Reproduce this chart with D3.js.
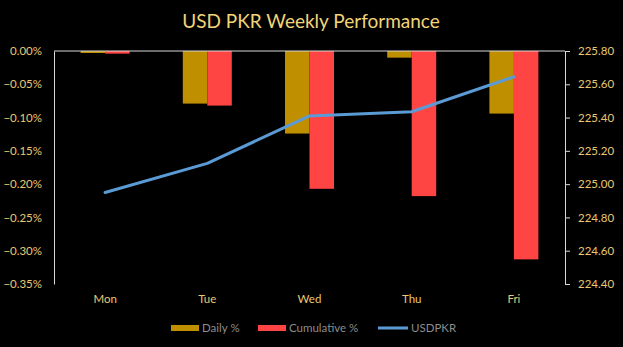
<!DOCTYPE html>
<html><head><meta charset="utf-8">
<script src="https://cdn.jsdelivr.net/npm/d3@7"></script>
<style>
html,body{margin:0;padding:0;background:#000;}
svg{display:block;}
text{font-family:Lato,"Open Sans",sans-serif;}
</style></head>
<body>
<script>
const categories = ["Mon","Tue","Wed","Thu","Fri"];
const dailyPct = [-0.003,-0.079,-0.124,-0.010,-0.094];
const cumulativePct = [-0.004,-0.082,-0.207,-0.218,-0.313];
const usdpkr = [224.95,225.125,225.41,225.435,225.645];
const leftTicks = [0,-0.05,-0.10,-0.15,-0.20,-0.25,-0.30,-0.35];
const rightTicks = [224.40,224.60,224.80,225.00,225.20,225.40,225.60,225.80];
const seriesNames = ["Daily %","Cumulative %","USDPKR"];
const colors = {daily:"#bf8f00", cum:"#ff4444", line:"#5b9bd5"};

const W=623,H=347;
const m={l:54,r:58,t:51,b:63};
const svg=d3.select("body").append("svg").attr("width",W).attr("height",H);
svg.append("rect").attr("width",W).attr("height",H).attr("fill","#000");

const x=d3.scaleBand().domain(categories).range([m.l,W-m.r]);
const xs=d3.scaleBand().domain(["d","c"]).range([0,49]);
const yL=d3.scaleLinear().domain([-0.35,0]).range([H-m.b,m.t]);
const yR=d3.scaleLinear().domain([224.4,225.8]).range([H-m.b,m.t]);

svg.append("text").attr("x",311).attr("y",28).attr("text-anchor","middle")
  .attr("fill","#f2d479").attr("font-size",19).text("USD PKR Weekly Performance");

// bars
const g=svg.append("g");
categories.forEach((c,i)=>{
  const x0=x(c)+x.bandwidth()/2-24.5;
  g.append("rect").attr("x",x0+xs("d")).attr("width",xs.bandwidth())
    .attr("y",yL(0)).attr("height",yL(dailyPct[i])-yL(0)).attr("fill",colors.daily);
  g.append("rect").attr("x",x0+xs("c")).attr("width",xs.bandwidth())
    .attr("y",yL(0)).attr("height",yL(cumulativePct[i])-yL(0)).attr("fill",colors.cum);
});

// left axis
const axL=d3.axisLeft(yL).tickValues(leftTicks).tickSize(0).tickPadding(12)
  .tickFormat(d=>d3.format(".2f")(d)+"%");
const gl=svg.append("g").attr("transform",`translate(${m.l},0)`).call(axL);
gl.select(".domain").attr("stroke","#d9d9d9");
gl.selectAll("text").attr("fill","#e8c870").attr("font-size",11.5).attr("font-family","Lato,sans-serif");

// right axis
const axR=d3.axisRight(yR).tickValues(rightTicks).tickSize(5).tickPadding(8)
  .tickFormat(d3.format(".2f"));
const gr=svg.append("g").attr("transform",`translate(${W-m.r},0)`).call(axR);
gr.select(".domain").attr("stroke","#d9d9d9");
gr.selectAll("line").attr("stroke","#d9d9d9");
gr.selectAll("text").attr("fill","#e8c870").attr("font-size",11.5).attr("font-family","Lato,sans-serif");

// zero line
svg.append("line").attr("x1",m.l).attr("x2",W-m.r).attr("y1",yL(0)).attr("y2",yL(0))
  .attr("stroke","#d9d9d9").attr("stroke-width",1);

// category labels
const axB=d3.axisBottom(x).tickSize(0).tickPadding(0);
const gb=svg.append("g").attr("transform",`translate(0,${H-m.b+11})`).call(axB);
gb.select(".domain").remove();
gb.selectAll("text").attr("fill","#e8c870").attr("font-size",11.5).attr("font-family","Lato,sans-serif");

// line
const line=d3.line().x((d,i)=>x(categories[i])+x.bandwidth()/2).y(d=>yR(d));
svg.append("path").datum(usdpkr).attr("d",line).attr("fill","none")
  .attr("stroke",colors.line).attr("stroke-width",3).attr("stroke-linejoin","round").attr("stroke-linecap","round");

// legend
const lg=svg.append("g");
const legY=328;
lg.append("rect").attr("x",171).attr("y",legY-3).attr("width",28).attr("height",6).attr("fill",colors.daily);
lg.append("text").attr("x",202).attr("y",legY+4).attr("fill","#8c8c8c").attr("font-size",11.5).text(seriesNames[0]);
lg.append("rect").attr("x",258).attr("y",legY-3).attr("width",28).attr("height",6).attr("fill",colors.cum);
lg.append("text").attr("x",289).attr("y",legY+4).attr("fill","#8c8c8c").attr("font-size",11.5).text(seriesNames[1]);
lg.append("line").attr("x1",378).attr("x2",408).attr("y1",legY).attr("y2",legY).attr("stroke",colors.line).attr("stroke-width",3);
lg.append("text").attr("x",411).attr("y",legY+4).attr("fill","#8c8c8c").attr("font-size",11.5).text(seriesNames[2]);
</script>
</body></html>
